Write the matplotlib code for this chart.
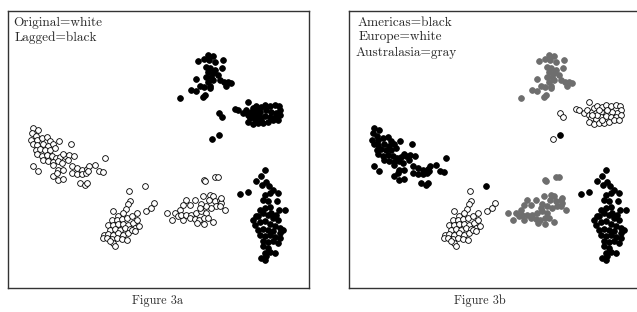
import matplotlib.pyplot as plt

# point positions (picture units, y grows downward)
amer_orig_x = [100, 115, 97, 108, 93, 110, 125, 140, 150, 98, 112, 130, 145, 160, 178, 213, 107, 120, 135, 150,
               165, 112, 125, 140, 155, 168, 180, 195, 208, 222, 188, 205, 130, 145, 160, 175, 185, 98, 113, 160,
               175, 190, 215, 230, 245, 260, 268, 285, 298, 310, 315, 215, 230, 245, 258, 265, 160, 175, 188, 240,
               255, 262, 170, 435]
amer_orig_y = [385, 390, 400, 408, 420, 420, 415, 412, 422, 433, 435, 432, 438, 432, 422, 433, 450, 448, 450, 452,
               445, 462, 468, 465, 470, 475, 472, 468, 465, 470, 462, 480, 480, 485, 488, 485, 490, 498, 513, 495,
               510, 512, 500, 505, 510, 508, 500, 495, 515, 518, 475, 520, 522, 522, 520, 515, 530, 540, 537, 550,
               555, 550, 520, 560]

amer_lag_x = [797, 785, 800, 768, 720, 745, 788, 808, 820, 835, 810, 795, 790, 805, 832, 855, 780, 795, 810, 838,
              760, 775, 790, 805, 820, 835, 765, 780, 795, 810, 825, 840, 775, 790, 805, 820, 840, 780, 795, 810,
              825, 840, 790, 805, 820, 835, 790, 805, 795, 810, 825, 785, 800, 795, 770, 830, 815, 850, 658]
amer_lag_y = [512, 530, 548, 545, 582, 578, 555, 560, 570, 580, 580, 585, 600, 605, 605, 632, 630, 625, 622, 630,
              660, 650, 640, 645, 655, 660, 675, 668, 665, 672, 680, 685, 690, 688, 690, 695, 700, 705, 710, 705,
              712, 715, 725, 728, 725, 730, 740, 745, 760, 758, 760, 775, 770, 780, 650, 645, 640, 690, 405]

euro_orig_x = [388, 390, 385, 378, 340, 355, 368, 335, 350, 365, 380, 395, 410, 438, 452, 462, 325, 340, 355, 370,
               385, 400, 410, 330, 345, 360, 375, 390, 405, 418, 312, 325, 340, 355, 370, 385, 310, 322, 335, 350,
               365, 340, 345, 330, 395, 405, 380]
euro_orig_y = [573, 605, 612, 628, 635, 648, 640, 660, 660, 658, 655, 650, 640, 635, 625, 610, 675, 675, 672, 672,
               675, 670, 660, 690, 688, 690, 685, 688, 685, 678, 705, 702, 705, 700, 705, 700, 715, 715, 718, 715,
               718, 730, 738, 725, 690, 695, 720]

euro_lag_x = [705, 715, 730, 740, 745, 755, 760, 770, 785, 795, 810, 825, 838, 842, 830, 815, 800, 780, 765, 750,
              765, 780, 795, 810, 825, 840, 745, 760, 775, 790, 805, 820, 835, 770, 785, 755, 745, 775,
              657, 668, 637]
euro_lag_y = [328, 330, 340, 330, 345, 335, 325, 318, 320, 315, 318, 315, 318, 330, 340, 335, 330, 335, 340, 355,
              358, 352, 348, 352, 350, 345, 365, 372, 370, 368, 365, 360, 360, 345, 360, 345, 305, 330,
              340, 352, 418]

aus_orig_x = [612, 615, 645, 655, 630, 640, 628, 645, 660, 665, 648, 635, 620, 605, 585, 560, 550, 570, 540, 525,
              502, 518, 535, 550, 545, 560, 575, 590, 605, 620, 570, 585, 598, 612, 625, 640, 612, 592, 675, 660,
              665, 610, 600]
aus_orig_y = [542, 545, 532, 533, 585, 590, 600, 605, 600, 610, 620, 625, 620, 612, 600, 600, 615, 615, 630, 640,
              640, 660, 650, 660, 645, 645, 645, 640, 635, 640, 655, 658, 660, 655, 655, 668, 672, 670, 632, 620,
              595, 590, 625]

aus_lag_x = [596, 612, 625, 640, 628, 645, 670, 620, 632, 645, 625, 640, 668, 588, 620, 635, 625, 640, 660, 672,
             685, 695, 680, 600, 612, 575, 590, 632, 630, 610, 615, 541, 655]
aus_lag_y = [183, 178, 165, 167, 180, 185, 180, 200, 205, 210, 215, 220, 205, 238, 230, 230, 245, 240, 240, 245,
             245, 248, 258, 258, 262, 270, 272, 258, 265, 292, 285, 293, 225]

groups = [
    (amer_orig_x, amer_orig_y, 'orig', 'amer'),
    (amer_lag_x, amer_lag_y, 'lag', 'amer'),
    (euro_orig_x, euro_orig_y, 'orig', 'euro'),
    (euro_lag_x, euro_lag_y, 'lag', 'euro'),
    (aus_orig_x, aus_orig_y, 'orig', 'aus'),
    (aus_lag_x, aus_lag_y, 'lag', 'aus'),
]

lag_colors = {'orig': 'white', 'lag': 'black'}
region_colors = {'amer': 'black', 'euro': 'white', 'aus': '#6e6e6e'}

W, H = 637, 312
fig = plt.figure(figsize=(W / 100, H / 100), dpi=100)
font = 'cmr10'

def panel(left_px, colors, which, labels):
    ax = fig.add_axes([left_px / W, 1 - 288 / H, 301 / W, 277 / H])
    for x, y, lag, reg in groups:
        key = lag if which == 'lag' else reg
        c = colors[key]
        ec = 'black' if c == 'white' else c
        ax.scatter(x, y, s=17, facecolor=c, edgecolor=ec, linewidth=0.6, zorder=3)
    ax.set_xlim(24, 928)
    ax.set_ylim(865, 33)
    ax.set_xticks([])
    ax.set_yticks([])
    for sp in ax.spines.values():
        sp.set_color('#333333')
        sp.set_linewidth(1.0)
    for txt, tx, ty in labels:
        ax.text(tx, ty, txt, fontsize=9.6, family=font, ha='left', va='center', color='#2a2a2a')
    return ax

panel(8, lag_colors, 'lag',
      [('Original=white', 40, 68), ('Lagged=black', 45, 112)])
panel(349, region_colors, 'reg',
      [('Americas=black', 51, 68), ('Europe=white', 54, 112), ('Australasia=gray', 44, 158)])

fig.text(158 / W, 1 - 301 / H, 'Figure 3a', family=font, fontsize=8.8, ha='center', va='center', color='#2a2a2a')
fig.text(480 / W, 1 - 301 / H, 'Figure 3b', family=font, fontsize=8.8, ha='center', va='center', color='#2a2a2a')

fig.savefig('out.png', dpi=100)
